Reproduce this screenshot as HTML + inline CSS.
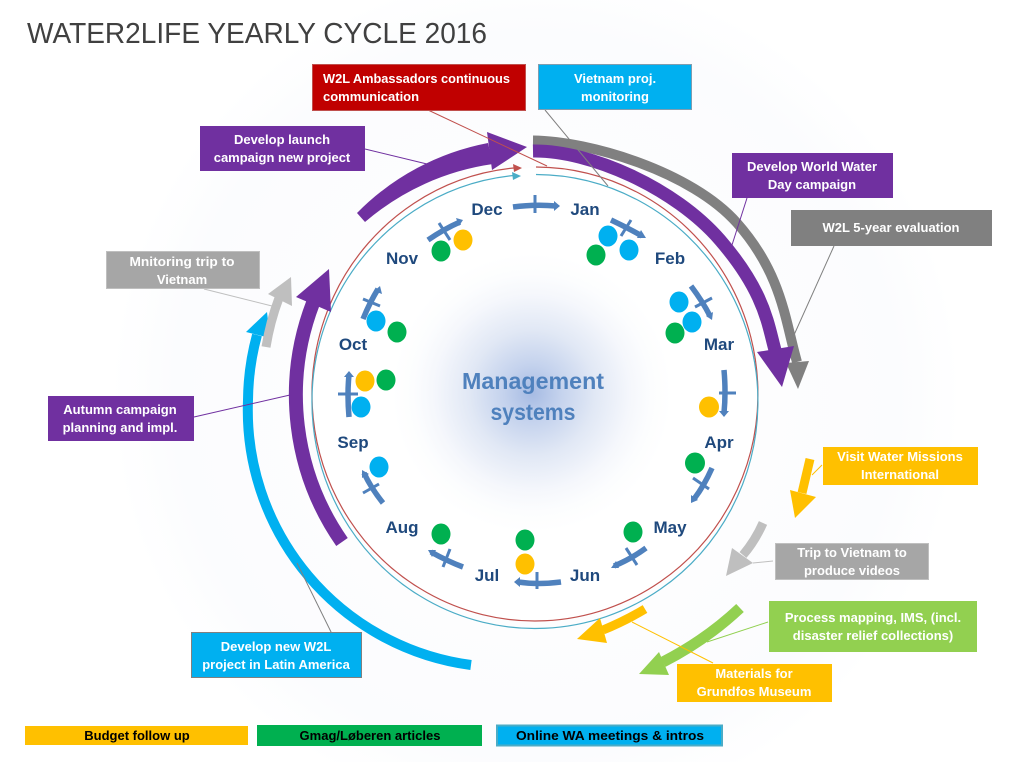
<!DOCTYPE html>
<html><head><meta charset="utf-8">
<style>
html,body{margin:0;padding:0;background:#fff;width:1017px;height:762px;overflow:hidden}
svg{display:block}
text{font-family:"Liberation Sans",sans-serif}
.b{font-weight:bold;font-size:13px;fill:#fff;text-anchor:middle}
.m{font-weight:bold;font-size:17px;fill:#1f497d;text-anchor:middle}
.l{font-weight:bold;font-size:13px;fill:#000;text-anchor:middle}
</style></head><body>
<svg width="1017" height="762" viewBox="0 0 1017 762" xmlns="http://www.w3.org/2000/svg">
<defs>
<radialGradient id="g" gradientUnits="userSpaceOnUse" cx="532" cy="393" r="140">
<stop offset="0" stop-color="#a6bbe3"/><stop offset=".2" stop-color="#c4d2ed"/><stop offset=".45" stop-color="#e1e8f5"/><stop offset=".7" stop-color="#f5f7fc"/><stop offset=".85" stop-color="#fcfdfe"/><stop offset="1" stop-color="#fff"/>
</radialGradient>
<radialGradient id="h" gradientUnits="userSpaceOnUse" cx="536" cy="395" r="425">
<stop offset="0" stop-color="#fff"/><stop offset=".55" stop-color="#fdfdfe"/><stop offset=".85" stop-color="#fbfcfe"/><stop offset="1" stop-color="#fff"/>
</radialGradient>
</defs>
<rect width="1017" height="762" fill="url(#h)"/>
<ellipse cx="536" cy="395" rx="223" ry="227" fill="#fff"/>
<circle cx="532" cy="393" r="140" fill="url(#g)"/>

<text x="27" y="43" font-size="29" fill="#404040" textLength="460" lengthAdjust="spacingAndGlyphs">WATER2LIFE YEARLY CYCLE 2016</text>

<!-- thin rings -->
<path d="M536 167 A223 227 0 1 1 514 168" fill="none" stroke="#c0504d" stroke-width="1.200"/>
<polygon points="522,168 513,164 514,172" fill="#c0504d"/>
<path d="M536 174.500 A223 227 0 1 1 514 175.500" fill="none" stroke="#4bacc6" stroke-width="1.200"/>
<polygon points="521,176 512,172 513,180" fill="#4bacc6"/>

<!-- main arcs -->
<path d="M533 140.500 C590 141 692 172 737 223 S785 320 797 362" fill="none" stroke="#808080" stroke-width="10"/>
<polygon points="798,389 809,361 786,363" fill="#808080"/>
<path d="M533 151 C590 150 675 188 720 240 S768 325 775 350" fill="none" stroke="#7030a0" stroke-width="13"/>
<polygon points="782,387 794,346 757,352" fill="#7030a0"/>
<path d="M357 213 A250 250 0 0 1 488 143 L493 164 A250 250 0 0 0 365 222 Z" fill="#7030a0"/>
<polygon points="527,147 487,132 492,170" fill="#7030a0"/>
<path d="M342 542 A257 257 0 0 1 313 303" fill="none" stroke="#7030a0" stroke-width="14"/>
<polygon points="329,269 296,297 331,312" fill="#7030a0"/>
<path d="M471 665 A257 257 0 0 1 248 400 A257 257 0 0 1 257 335" fill="none" stroke="#00b0f0" stroke-width="10"/>
<polygon points="267,312 246,332 270,338" fill="#00b0f0"/>
<path d="M266 347 Q270 322 279 298" fill="none" stroke="#bfbfbf" stroke-width="9"/>
<polygon points="291,277 268,294 292,306" fill="#bfbfbf"/>
<path d="M810 459 L802 493" fill="none" stroke="#ffc000" stroke-width="9"/>
<polygon points="795,518 790,490 816,497" fill="#ffc000"/>
<path d="M763 523 Q755 541 743 555" fill="none" stroke="#bfbfbf" stroke-width="9"/>
<polygon points="726,576 732,548 753,563" fill="#bfbfbf"/>
<path d="M740 608 Q706 640 663 662" fill="none" stroke="#92d050" stroke-width="11"/>
<polygon points="639,674 659,652 669,675" fill="#92d050"/>
<path d="M645 609 Q625 621 603 630" fill="none" stroke="#ffc000" stroke-width="9"/>
<polygon points="577,639 600,618 607,643" fill="#ffc000"/>

<!-- connectors -->
<g fill="none" stroke-width="1">
<line x1="428" y1="110" x2="547" y2="166" stroke="#c0504d"/>
<line x1="545" y1="110" x2="608" y2="186" stroke="#808080"/>
<line x1="365" y1="149" x2="427" y2="164" stroke="#7030a0"/>
<line x1="747" y1="198" x2="732" y2="245" stroke="#7030a0"/>
<line x1="834" y1="246" x2="794" y2="335" stroke="#808080"/>
<line x1="822" y1="465" x2="812" y2="475" stroke="#ffc000"/>
<line x1="773" y1="561" x2="753" y2="563" stroke="#bfbfbf"/>
<line x1="768" y1="622" x2="707" y2="642" stroke="#92d050"/>
<line x1="713" y1="663" x2="632" y2="622" stroke="#ffc000"/>
<line x1="333" y1="636" x2="297" y2="563" stroke="#808080"/>
<line x1="204" y1="289" x2="272" y2="306" stroke="#bfbfbf"/>
<line x1="194" y1="417" x2="290" y2="395" stroke="#7030a0"/>
</g>

<!-- month arrows -->
<g fill="none" stroke="#4f81bd" stroke-width="5.500">
<path d="M513 207 Q535 204 556 206"/><path d="M535 195V213" stroke-width="3"/>
<path d="M611 220 Q628 228 642 236"/><path d="M631 220L621 236" stroke-width="3"/>
<path d="M691 286 Q703 302 710 316"/><path d="M695 307L712 298" stroke-width="3"/>
<path d="M724 370 Q726 392 724 413"/><path d="M719 393H736" stroke-width="3"/>
<path d="M712 468 Q704 486 694 499"/><path d="M693 478L709 489" stroke-width="3"/>
<path d="M646 548 Q631 559 614 566"/><path d="M626 548L637 565" stroke-width="3"/>
<path d="M561 582 Q538 585 518 582"/><path d="M537 572V589" stroke-width="3"/>
<path d="M463 567 Q447 561 431 552"/><path d="M450 549L443 567" stroke-width="3"/>
<path d="M383 503 Q371 488 364 473"/><path d="M363 493L379 484" stroke-width="3"/>
<path d="M349 417 Q347 394 349 375"/><path d="M338 394H358" stroke-width="3"/>
<path d="M363 319 Q370 302 378 289"/><path d="M363 299L380 306" stroke-width="3"/>
<path d="M428 240 Q444 229 460 222"/><path d="M439 223L450 240" stroke-width="3"/>
</g>
<g fill="#4f81bd">
<polygon points="560,206 554,201 554,211"/>
<polygon points="646,238 637,238 641,230"/>
<polygon points="712,320 706,316 713,312"/>
<polygon points="724,417 719,411 729,411"/>
<polygon points="691,503 691,495 698,500"/>
<polygon points="611,568 616,561 619,568"/>
<polygon points="514,582 520,577 520,587"/>
<polygon points="428,550 436,550 432,557"/>
<polygon points="362,470 369,474 362,478"/>
<polygon points="349,371 344,377 354,377"/>
<polygon points="380,286 374,291 382,294"/>
<polygon points="463,220 456,218 459,226"/>
</g>

<!-- dots -->
<g>
<ellipse cx="463" cy="240" rx="9.500" ry="10.500" fill="#ffc000"/>
<ellipse cx="441" cy="251" rx="9.500" ry="10.500" fill="#00b050"/>
<ellipse cx="608" cy="236" rx="9.500" ry="10.500" fill="#00b0f0"/>
<ellipse cx="629" cy="250" rx="9.500" ry="10.500" fill="#00b0f0"/>
<ellipse cx="596" cy="255" rx="9.500" ry="10.500" fill="#00b050"/>
<ellipse cx="679" cy="302" rx="9.500" ry="10.500" fill="#00b0f0"/>
<ellipse cx="692" cy="322" rx="9.500" ry="10.500" fill="#00b0f0"/>
<ellipse cx="675" cy="333" rx="9.500" ry="10.500" fill="#00b050"/>
<ellipse cx="709" cy="407" rx="10" ry="10.500" fill="#ffc000"/>
<ellipse cx="695" cy="463" rx="10" ry="10.500" fill="#00b050"/>
<ellipse cx="633" cy="532" rx="9.500" ry="10.500" fill="#00b050"/>
<ellipse cx="525" cy="540" rx="9.500" ry="10.500" fill="#00b050"/>
<ellipse cx="525" cy="564" rx="9.500" ry="10.500" fill="#ffc000"/>
<ellipse cx="441" cy="534" rx="9.500" ry="10.500" fill="#00b050"/>
<ellipse cx="379" cy="467" rx="9.500" ry="10.500" fill="#00b0f0"/>
<ellipse cx="365" cy="381" rx="9.500" ry="10.500" fill="#ffc000"/>
<ellipse cx="386" cy="380" rx="9.500" ry="10.500" fill="#00b050"/>
<ellipse cx="361" cy="407" rx="9.500" ry="10.500" fill="#00b0f0"/>
<ellipse cx="376" cy="321" rx="9.500" ry="10.500" fill="#00b0f0"/>
<ellipse cx="397" cy="332" rx="9.500" ry="10.500" fill="#00b050"/>
</g>

<!-- months -->
<text class="m" x="487" y="215">Dec</text>
<text class="m" x="585" y="215">Jan</text>
<text class="m" x="670" y="264">Feb</text>
<text class="m" x="719" y="350">Mar</text>
<text class="m" x="719" y="448">Apr</text>
<text class="m" x="670" y="533">May</text>
<text class="m" x="585" y="581">Jun</text>
<text class="m" x="487" y="581">Jul</text>
<text class="m" x="402" y="533">Aug</text>
<text class="m" x="353" y="448">Sep</text>
<text class="m" x="353" y="350">Oct</text>
<text class="m" x="402" y="264">Nov</text>

<text x="533" y="389" font-size="23" font-weight="bold" fill="#4f81bd" text-anchor="middle" textLength="142" lengthAdjust="spacingAndGlyphs">Management</text>
<text x="533" y="420" font-size="23" font-weight="bold" fill="#4f81bd" text-anchor="middle" textLength="85" lengthAdjust="spacingAndGlyphs">systems</text>

<!-- boxes -->
<rect x="312.500" y="64.500" width="213" height="46" fill="#c00000" stroke="#c0504d"/>
<text class="b" x="323" y="83" style="text-anchor:start" textLength="187" lengthAdjust="spacingAndGlyphs">W2L Ambassadors continuous</text>
<text class="b" x="323" y="101" style="text-anchor:start">communication</text>

<rect x="538.500" y="64.500" width="153" height="45" fill="#00b0f0" stroke="#7f9db0"/>
<text class="b" x="615" y="83">Vietnam proj.</text>
<text class="b" x="615" y="101">monitoring</text>

<rect x="200" y="126" width="165" height="45" fill="#7030a0"/>
<text class="b" x="282" y="144">Develop launch</text>
<text class="b" x="282" y="162">campaign new project</text>

<rect x="732" y="153" width="161" height="45" fill="#7030a0"/>
<text class="b" x="812" y="171">Develop World Water</text>
<text class="b" x="812" y="189">Day campaign</text>

<rect x="791" y="210" width="201" height="36" fill="#808080"/>
<text class="b" x="891" y="232">W2L 5-year evaluation</text>

<rect x="823" y="447" width="155" height="38" fill="#ffc000"/>
<text class="b" x="900" y="461">Visit Water Missions</text>
<text class="b" x="900" y="479">International</text>

<rect x="775.500" y="543.500" width="153" height="36" fill="#a6a6a6" stroke="#bfbfbf"/>
<text class="b" x="852" y="557">Trip to Vietnam to</text>
<text class="b" x="852" y="575">produce videos</text>

<rect x="769" y="601" width="208" height="51" fill="#92d050"/>
<text class="b" x="873" y="622">Process mapping, IMS, (incl.</text>
<text class="b" x="873" y="640">disaster relief collections)</text>

<rect x="677" y="664" width="155" height="38" fill="#ffc000"/>
<text class="b" x="754" y="678">Materials for</text>
<text class="b" x="754" y="696">Grundfos Museum</text>

<rect x="191.500" y="632.500" width="170" height="45" fill="#00b0f0" stroke="#808080"/>
<text class="b" x="276" y="651">Develop new W2L</text>
<text class="b" x="276" y="669">project in Latin America</text>

<rect x="106.500" y="251.500" width="153" height="37" fill="#a6a6a6" stroke="#bfbfbf"/>
<text class="b" x="182" y="266" textLength="105" lengthAdjust="spacingAndGlyphs">Mnitoring trip to</text>
<text class="b" x="182" y="284">Vietnam</text>

<rect x="48" y="396" width="146" height="45" fill="#7030a0"/>
<text class="b" x="120" y="414">Autumn campaign</text>
<text class="b" x="120" y="432">planning and impl.</text>

<!-- legend -->
<rect x="25" y="726" width="223" height="19" fill="#ffc000"/>
<text class="l" x="137" y="740">Budget follow up</text>
<rect x="257" y="725" width="225" height="21" fill="#00b050"/>
<text class="l" x="370" y="740">Gmag/Løberen articles</text>
<rect x="497" y="725.500" width="225" height="20" fill="#00b0f0" stroke="#4bacc6" stroke-width="2"/>
<text class="l" x="610" y="740" textLength="188" lengthAdjust="spacingAndGlyphs">Online WA meetings &amp; intros</text>
</svg>
</body></html>
